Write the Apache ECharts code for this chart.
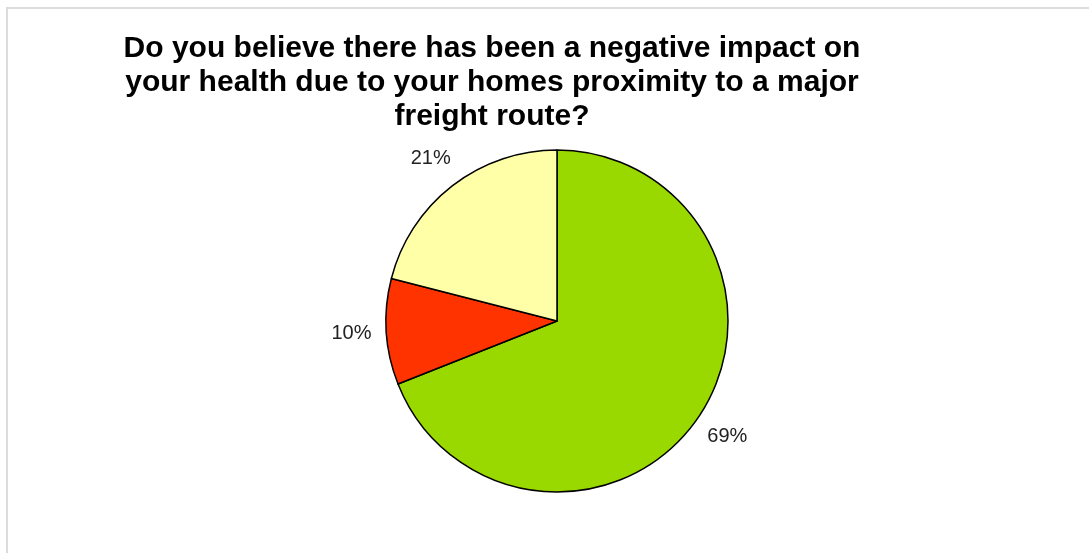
<!DOCTYPE html>
<html>
<head>
<meta charset="utf-8">
<script src="https://cdn.jsdelivr.net/npm/echarts@6/dist/echarts.min.js"></script>
<style>
  html, body { margin: 0; padding: 0; background: #ffffff; }
  #chart { width: 1089px; height: 553px; }
</style>
</head>
<body>
<div id="chart"></div>
<script>
// Survey answers, in drawing order (clockwise from 12 o'clock)
const categories = ['Yes', 'Not sure', 'No'];
const shares = [69, 10, 21];
const sliceColors = ['#99d900', '#ff3300', '#ffffa8'];
const titleText = 'Do you believe there has been a negative impact on\nyour health due to your homes proximity to a major\nfreight route?';

const pieData = categories.map((name, i) => ({
  name: name,
  value: shares[i],
  itemStyle: { color: sliceColors[i] }
}));

const chart = echarts.init(document.getElementById('chart'), null, { renderer: 'canvas' });

chart.setOption({
  animation: false,
  backgroundColor: '#ffffff',
  title: {
    text: titleText,
    left: 487,
    top: 27,
    textAlign: 'center',
    textStyle: {
      fontFamily: 'Liberation Sans, Arial, sans-serif',
      fontWeight: 'bold',
      fontSize: 30,
      lineHeight: 34,
      color: '#000000'
    }
  },
  graphic: [{
    type: 'polyline',
    shape: { points: [[7, 553], [7, 8], [1089, 8]] },
    style: { stroke: '#dcdcdc', lineWidth: 2, fill: null },
    silent: true
  }],
  series: [
    {
      type: 'pie',
      center: [557, 321],
      radius: [0, 171],
      startAngle: 90,
      clockwise: true,
      data: pieData,
      itemStyle: { borderColor: '#000000', borderWidth: 1.5 },
      label: { show: false },
      labelLine: { show: false },
      emphasis: { disabled: true },
      silent: true
    },
    {
      // transparent ring that carries the percentage labels just outside the pie
      type: 'pie',
      center: [557, 321],
      radius: [193, 213],
      startAngle: 90,
      clockwise: true,
      data: pieData.map(d => ({ name: d.name, value: d.value })),
      itemStyle: { color: 'rgba(0,0,0,0)', borderWidth: 0 },
      label: {
        show: true,
        position: 'inside',
        formatter: p => p.value + '%',
        fontFamily: 'Liberation Sans, Arial, sans-serif',
        fontSize: 20,
        color: '#222222'
      },
      labelLine: { show: false },
      emphasis: { disabled: true },
      silent: true
    }
  ]
});
</script>
</body>
</html>
